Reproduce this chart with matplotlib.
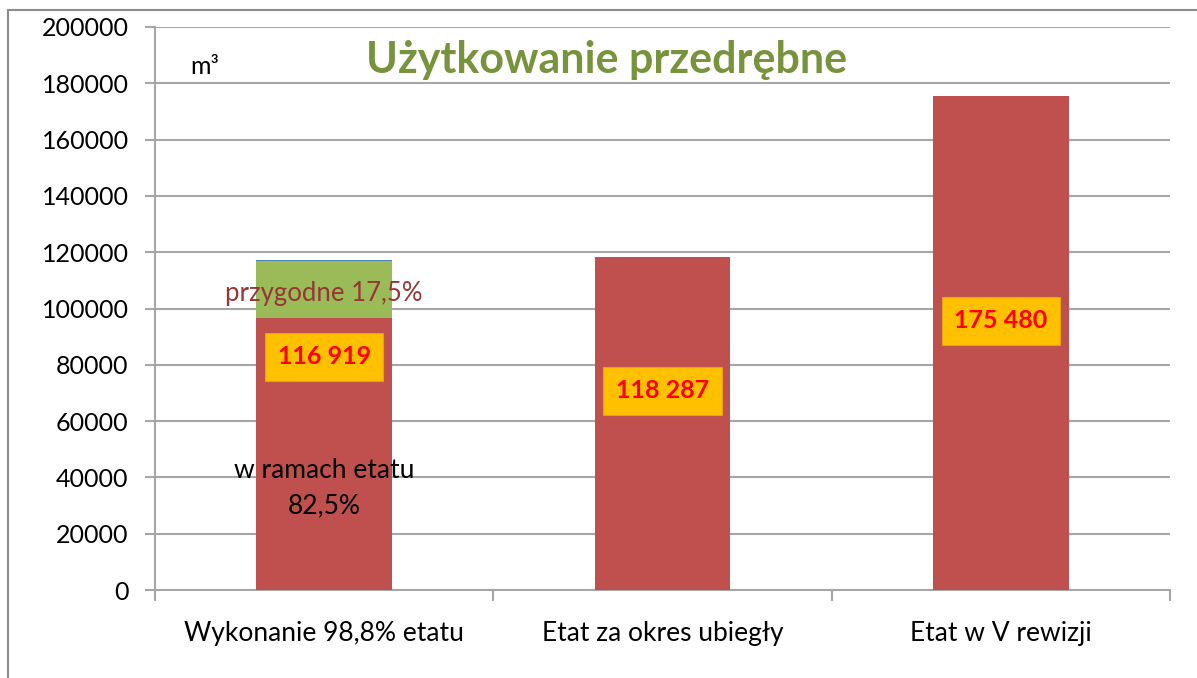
import matplotlib
matplotlib.use("Agg")
import matplotlib.pyplot as plt
from matplotlib.lines import Line2D

plt.rcParams['font.family'] = ['Lato', 'DejaVu Sans']

categories = ["Wykonanie 98,8% etatu", "Etat za okres ubiegły", "Etat w V rewizji"]
w_ramach_etatu = [96458, 118287, 175480]
przygodne = [20461, 0, 0]
inne = [350, 0, 0]
totals = [116919, 118287, 175480]
total_labels = ["116 919", "118 287", "175 480"]
label_pos = [82800, 70700, 95600]
yticks = list(range(0, 200001, 20000))

RED = "#C0504D"
GREEN = "#9BBB59"
BLUE = "#4F81BD"
GRID = "#A6A6A6"

fig = plt.figure(figsize=(11.97, 6.78), dpi=100)
ax = fig.add_axes([155 / 1197, 88 / 678, 1015 / 1197, 563 / 678])

x = list(range(len(categories)))
width = 0.4
ax.bar(x, w_ramach_etatu, width=width, color=RED, zorder=3)
ax.bar(x, przygodne, width=width, bottom=w_ramach_etatu, color=GREEN, zorder=3)
bottom2 = [a + b for a, b in zip(w_ramach_etatu, przygodne)]
ax.bar(x, inne, width=width, bottom=bottom2, color=BLUE, zorder=3)

ax.set_xlim(-0.5, 2.5)
ax.set_ylim(0, 200000)
ax.set_yticks(yticks)
ax.set_yticklabels([str(v) for v in yticks], fontsize=18, color="#000000")
ax.yaxis.grid(True, color=GRID, linewidth=1.5, zorder=0)
ax.set_axisbelow(True)

ax.set_xticks(x)
ax.set_xticklabels(categories, fontsize=19)
ax.tick_params(axis='x', length=0, pad=22)
ax.tick_params(axis='y', length=7, width=1.5, color=GRID, pad=12)
# category boundary ticks
ax.set_xticks([-0.5, 0.5, 1.5, 2.5], minor=True)
ax.tick_params(axis='x', which='minor', length=8, width=1.5, color=GRID)

for side in ("top", "right"):
    ax.spines[side].set_visible(False)
for side in ("left", "bottom"):
    ax.spines[side].set_color(GRID)
    ax.spines[side].set_linewidth(1.5)

# value boxes
for xi, lab, yp in zip(x, total_labels, label_pos):
    ax.text(xi, yp, lab, ha="center", va="center", fontsize=18, fontweight="bold",
            color="#FF0000", zorder=5,
            bbox=dict(boxstyle="square,pad=0.5", facecolor="#FFC000",
                      edgecolor="#E3A21A", linewidth=0.8))

ax.text(0, 105500, "przygodne 17,5%", ha="center", va="center", fontsize=18.5,
        color="#953735", zorder=5)
ax.text(0, 42500, "w ramach etatu", ha="center", va="center", fontsize=19,
        color="#000000", zorder=5)
ax.text(0, 30000, "82,5%", ha="center", va="center", fontsize=19,
        color="#000000", zorder=5)

# title and unit
fig.text(607 / 1197, 1 - 60 / 678, "Użytkowanie przedrębne", ha="center", va="center",
         fontsize=31, fontweight="bold", color="#77933C")
fig.text(190 / 1197, 1 - 67 / 678, "m³", ha="left", va="center", fontsize=18,
         color="#000000")

# outer frame
fig.add_artist(Line2D([8 / 1197, 8 / 1197], [0, 1 - 10 / 678], transform=fig.transFigure,
                      color="#8C8C8C", linewidth=1.5))
fig.add_artist(Line2D([8 / 1197, 1], [1 - 10 / 678, 1 - 10 / 678], transform=fig.transFigure,
                      color="#8C8C8C", linewidth=1.5))

fig.savefig("out.png", dpi=100)
